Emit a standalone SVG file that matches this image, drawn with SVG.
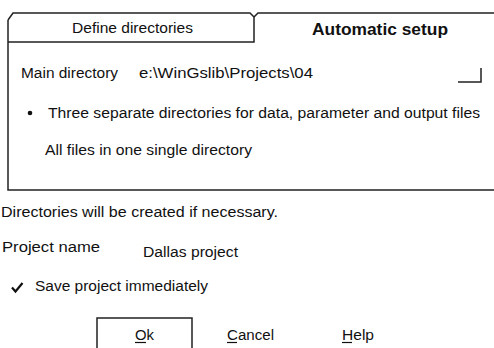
<svg xmlns="http://www.w3.org/2000/svg" width="494" height="348" viewBox="0 0 494 348">
  <style>
    .frame { fill: none; stroke: #222; stroke-width: 1.5; stroke-linejoin: miter; }
    .txt { font-family: "Liberation Sans", Arial, sans-serif; font-size: 15.5px; fill: #111; }
    .bold { font-weight: bold; font-size: 17px; }
    .ul { stroke: #111; stroke-width: 1.2; }
  </style>
  <rect width="494" height="348" fill="#ffffff"/>

  <!-- Tabbed panel -->
  <g id="panel">
    <path class="frame" d="M8,20 L8,190 L494,190"/>
    <path class="frame" d="M8,20 L13,13 L250,13 L254,17 L254,42 L8,42"/>
    <path class="frame" d="M254,17 L258,13 L494,13"/>
  </g>

  <g id="tab-define">
    <text class="txt" x="72" y="33" textLength="121" lengthAdjust="spacingAndGlyphs">Define directories</text>
  </g>
  <g id="tab-automatic">
    <text class="txt bold" x="312" y="35" textLength="136" lengthAdjust="spacingAndGlyphs">Automatic setup</text>
  </g>

  <g id="main-directory">
    <text class="txt" x="21" y="78" textLength="97" lengthAdjust="spacingAndGlyphs">Main directory</text>
    <text class="txt" x="139" y="78" textLength="174" lengthAdjust="spacingAndGlyphs">e:\WinGslib\Projects\04</text>
    <path class="frame" d="M458,82 L481,82 L481,68" stroke-width="1.3"/>
  </g>

  <g id="option-three">
    <circle cx="30" cy="113" r="2.3" fill="#111"/>
    <text class="txt" x="48" y="118" textLength="432" lengthAdjust="spacingAndGlyphs">Three separate directories for data, parameter and output files</text>
  </g>

  <g id="option-single">
    <text class="txt" x="45" y="155" textLength="207" lengthAdjust="spacingAndGlyphs">All files in one single directory</text>
  </g>

  <g id="note">
    <text class="txt" x="1" y="217" textLength="277" lengthAdjust="spacingAndGlyphs">Directories will be created if necessary.</text>
  </g>

  <g id="project-name">
    <text class="txt" x="2" y="252" textLength="98" lengthAdjust="spacingAndGlyphs">Project name</text>
    <text class="txt" x="143" y="257" textLength="95" lengthAdjust="spacingAndGlyphs">Dallas project</text>
  </g>

  <g id="save-check">
    <path d="M12,287.5 L15.5,291.5 L22.5,283" fill="none" stroke="#111" stroke-width="2.2"/>
    <text class="txt" x="35" y="291" textLength="173" lengthAdjust="spacingAndGlyphs">Save project immediately</text>
  </g>

  <g id="btn-ok">
    <path class="frame" d="M97,348 L97,318 L192,318 L192,348"/>
    <text class="txt" x="135" y="340" textLength="19" lengthAdjust="spacingAndGlyphs">Ok</text>
    <line class="ul" x1="135" y1="342.5" x2="146" y2="342.5"/>
  </g>

  <g id="btn-cancel">
    <text class="txt" x="227" y="340" textLength="47" lengthAdjust="spacingAndGlyphs">Cancel</text>
    <line class="ul" x1="227" y1="342.5" x2="237" y2="342.5"/>
  </g>

  <g id="btn-help">
    <text class="txt" x="342" y="340" textLength="32" lengthAdjust="spacingAndGlyphs">Help</text>
    <line class="ul" x1="342" y1="342.5" x2="352" y2="342.5"/>
  </g>
</svg>
